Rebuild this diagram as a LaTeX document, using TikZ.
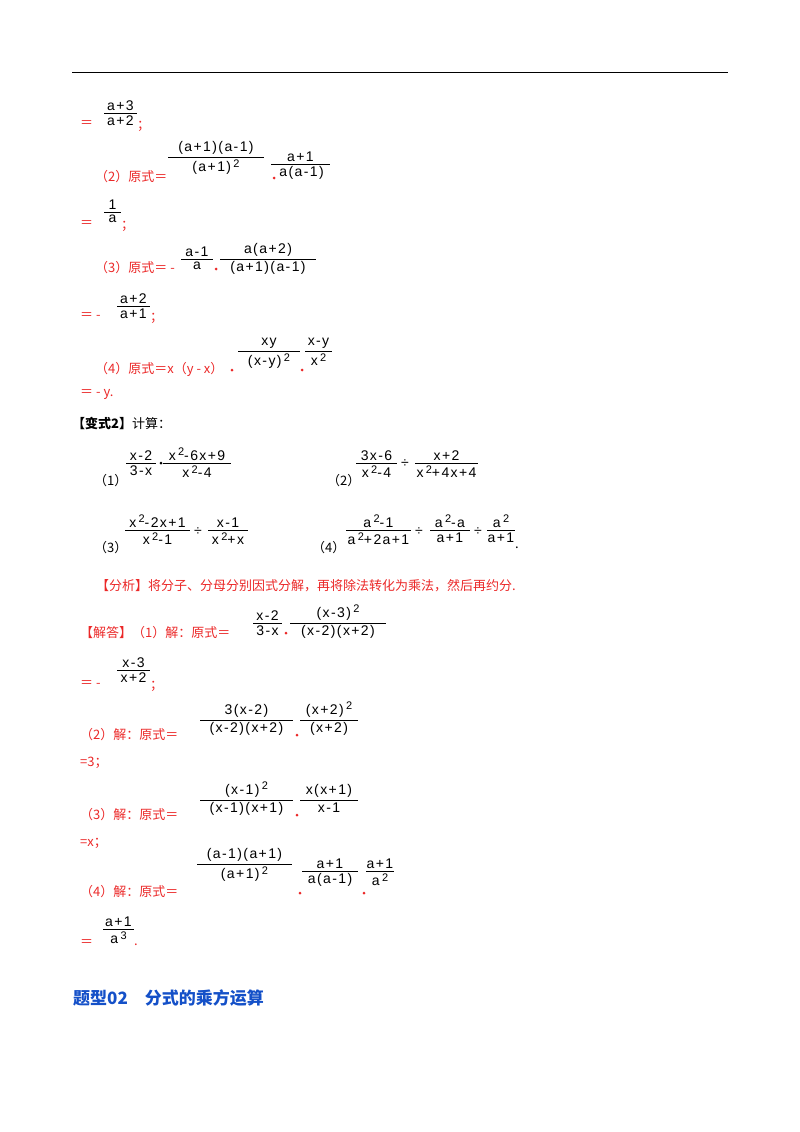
\documentclass[tikz,border=0pt]{standalone}
\usepackage{fontspec}
\setmainfont{Liberation Serif}
\newfontfamily\cjk{Noto Sans CJK SC}
\newfontfamily\fsans[LetterSpace=10]{Liberation Sans}
\definecolor{rd}{RGB}{235,40,40}
\definecolor{bl}{RGB}{20,80,200}
\newcommand\fr[6]{%
 \draw[fl] (#2,#4) -- (#3,#4);
 \node[ft,above] (#1n) at ({(#2+#3)/2},#4) {#5};
 \node[ft,below] (#1d) at ({(#2+#3)/2},#4) {#6};}
\newcommand\sq{\,\raisebox{0.6ex}{\fontsize{11}{11}\selectfont 2}}
\newcommand\cb{\,\raisebox{0.6ex}{\fontsize{11}{11}\selectfont 3}}
\begin{document}
\begin{tikzpicture}[x=1pt,y=-1pt,
 fl/.style={line width=0.8pt},
 ft/.style={font=\fsans\fontsize{14}{15}\selectfont,inner sep=2.5pt},
 tx/.style={font=\cjk\fontsize{13}{14}\selectfont,anchor=west,inner sep=0pt},
 rt/.style={tx,text=rd},
 dt/.style={circle,fill=rd,inner sep=0pt,minimum size=3pt}]
\useasboundingbox (0,0) rectangle (800,1132);
\draw[line width=0.8pt] (72,72) -- (728,72);
% a+3/a+2
\node[rt] (e1) at (80,124) {＝};
\fr{f1}{104}{137}{113}{a+3}{a+2}
\node[rt] (s1) at (137,126) {；};
% (2)
\node[rt] (t2) at (95,177) {（2）原式＝};
\fr{f2}{168}{264}{157}{(a+1)(a-1)}{(a+1)\sq}
\node[dt] (d2) at (274,178) {};
\fr{f3}{271}{330}{164}{a+1}{\,a(a-1)}
\node[rt] (e2) at (80,224) {＝};
\fr{f4}{104}{121}{212}{1}{a}
\node[rt] (s2) at (121,226) {；};
% (3)
\node[rt] (t3) at (95,268) {（3）原式＝ -};
\fr{f5}{181}{213}{259}{a-1}{a}
\node[dt] (d3) at (216,269) {};
\fr{f6}{220}{316}{259}{a(a+2)}{(a+1)(a-1)}
\node[rt] (e3) at (80,316) {＝ -};
\fr{f7}{117}{150}{306}{a+2}{a+1}
\node[rt] (s3) at (150,318) {；};
% (4)
\node[rt] (t4) at (95,369) {（4）原式＝\textit{x}（\textit{y} - \textit{x}）};
\node[dt] (d4) at (232,370) {};
\fr{f8}{238}{300}{351}{xy}{(x-y)\sq}
\node[dt] (d5) at (302,370) {};
\fr{f9}{305}{332}{351}{x-y}{x\sq}
\node[rt] (e4) at (80,394) {＝ - \textit{y}.};
% variant 2
\node[tx] (v2) at (72,423) {\textbf{【变式2】}计算：};
\node[tx] (p1) at (94,481) {（1）};
\fr{g1}{126}{156}{463}{x-2}{3-x}
\node[circle,fill,inner sep=0pt,minimum size=3pt] (gd1) at (161,463) {};
\fr{g2}{163}{231}{463}{x\sq-6x+9}{x\sq-4}
\node[tx] (p2) at (327,481) {（2）};
\fr{g3}{356}{397}{463}{3x-6}{x\sq-4}
\node[ft] (gv1) at (405,464) {÷};
\fr{g4}{415}{478}{463}{x+2}{x\sq+4x+4}
\node[tx] (p3) at (94,548) {（3）};
\fr{g5}{125}{190}{530}{x\sq-2x+1}{x\sq-1}
\node[ft] (gv2) at (198,532) {÷};
\fr{g6}{208}{248}{530}{x-1}{x\sq+x}
\node[tx] (p4) at (312,548) {（4）};
\fr{g7}{346}{411}{530}{a\sq-1}{a\sq+2a+1}
\node[ft] (gv3) at (419,532) {÷};
\fr{g8}{430}{470}{530}{a\sq-a}{a+1}
\node[ft] (gv4) at (478,532) {÷};
\fr{g9}{487}{515}{530}{a\sq}{a+1}
\node[tx] (pe) at (515,548) {.};
% analysis
\node[rt] (an) at (96,586) {【分析】将分子、分母分别因式分解，再将除法转化为乘法，然后再约分.};
% solution
\node[rt] (j1) at (80,633) {【解答】（1）解：原式＝};
\fr{h1}{253}{282}{623}{x-2}{3-x}
\node[dt] (hd1) at (286,633) {};
\fr{h2}{290}{386}{623}{(x-3)\sq}{(x-2)(x+2)}
\node[rt] (j1e) at (80,684) {＝ -};
\fr{h3}{117}{150}{670}{x-3}{x+2}
\node[rt] (j1s) at (150,686) {；};
\node[rt] (j2) at (80,735) {（2）解：原式＝};
\fr{h4}{200}{293}{720}{3(x-2)}{(x-2)(x+2)}
\node[dt] (hd2) at (297,735) {};
\fr{h5}{300}{358}{720}{(x+2)\sq}{(x+2)}
\node[rt] (j2e) at (80,763) {=3；};
\node[rt] (j3) at (80,815) {（3）解：原式＝};
\fr{h6}{200}{293}{800}{(x-1)\sq}{(x-1)(x+1)}
\node[dt] (hd3) at (297,815) {};
\fr{h7}{300}{358}{800}{x(x+1)}{x-1}
\node[rt] (j3e) at (80,843) {=\textit{x}；};
\node[rt] (j4) at (80,892) {（4）解：原式＝};
\fr{h8}{197}{292}{864}{(a-1)(a+1)}{(a+1)\sq}
\node[dt] (hd4) at (300,893) {};
\fr{h9}{302}{358}{871}{a+1}{a(a-1)}
\node[dt] (hd5) at (364,893) {};
\fr{h10}{366}{394}{871}{a+1}{a\sq}
\node[rt] (j4e) at (80,943) {＝};
\fr{h11}{103}{134}{929}{a+1}{a\cb}
\node[rt] (j4s) at (134,945) {.};
\node[tx,text=bl,font=\cjk\bfseries\fontsize{17}{18}\selectfont] (hd) at (73,998) {题型02\quad 分式的乘方运算};
\end{tikzpicture}
\end{document}
